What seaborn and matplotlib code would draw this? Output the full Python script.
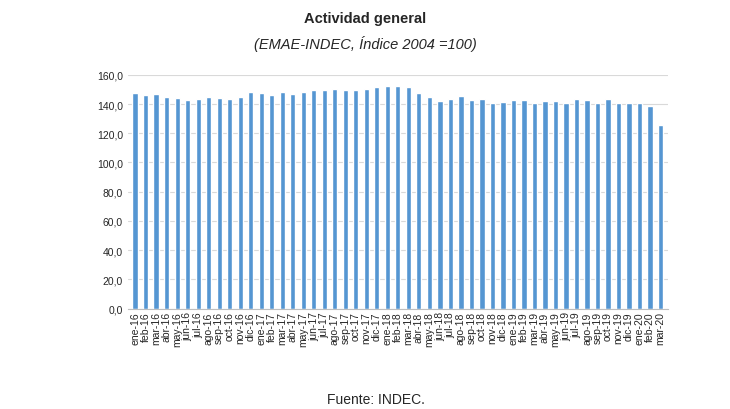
import matplotlib
matplotlib.use('Agg')
import matplotlib.pyplot as plt
import seaborn as sns
import pandas as pd

meses = ['ene', 'feb', 'mar', 'abr', 'may', 'jun', 'jul', 'ago', 'sep', 'oct', 'nov', 'dic']
periodos = [f'{m}-{a}' for a in ['16', '17', '18', '19'] for m in meses] + ['ene-20', 'feb-20', 'mar-20']
valores = [147.5, 146.5, 147.0, 145.0, 144.0, 143.0, 143.5, 145.0, 144.0, 143.5, 145.0, 148.0,
           147.5, 146.0, 148.0, 147.0, 148.5, 149.5, 149.5, 150.0, 149.5, 149.5, 150.5, 151.5,
           152.5, 152.5, 151.5, 147.5, 144.5, 142.0, 143.5, 145.5, 142.5, 143.5, 141.0, 141.5,
           142.5, 142.5, 140.5, 142.0, 142.0, 140.5, 143.5, 143.0, 140.5, 143.5, 140.5, 141.0,
           140.5, 139.0, 126.0]
yticks = [0, 20, 40, 60, 80, 100, 120, 140, 160]

df = pd.DataFrame({'periodo': periodos, 'valor': valores})

sns.set_style('white')
fig = plt.figure(figsize=(7.3, 4.1), dpi=100)
ax = fig.add_axes([0.175, 0.245, 0.74, 0.57])
sns.barplot(data=df, x='periodo', y='valor', color='#5596d2', width=0.5, saturation=1, ax=ax)
ax.set_ylim(0, 160)
ax.set_yticks(yticks)
ax.set_yticklabels([f'{v},0' for v in yticks], fontsize=7.5, family='Liberation Sans')
ax.yaxis.grid(True, color='#d9d9d9', lw=0.8)
ax.set_axisbelow(True)
ax.tick_params(axis='x', rotation=90, labelsize=7.5, length=0, pad=2)
ax.tick_params(axis='y', length=0)
for lab in ax.get_xticklabels():
    lab.set_family('Liberation Sans')
ax.set_xlabel('')
ax.set_ylabel('')
ax.set_xlim(-0.7, len(periodos) - 0.3)
for s in ['top', 'right', 'left']:
    ax.spines[s].set_visible(False)
ax.spines['bottom'].set_color('#bfbfbf')

fig.text(0.5, 0.945, 'Actividad general', ha='center', fontsize=10.5, fontweight='bold', family='Liberation Sans')
fig.text(0.5, 0.88, '(EMAE-INDEC, Índice 2004 =100)', ha='center', fontsize=10.5, style='italic', family='Liberation Sans')
fig.text(0.515, 0.015, 'Fuente: INDEC.', ha='center', fontsize=10, family='Liberation Sans')
fig.savefig('out.png', dpi=100)
